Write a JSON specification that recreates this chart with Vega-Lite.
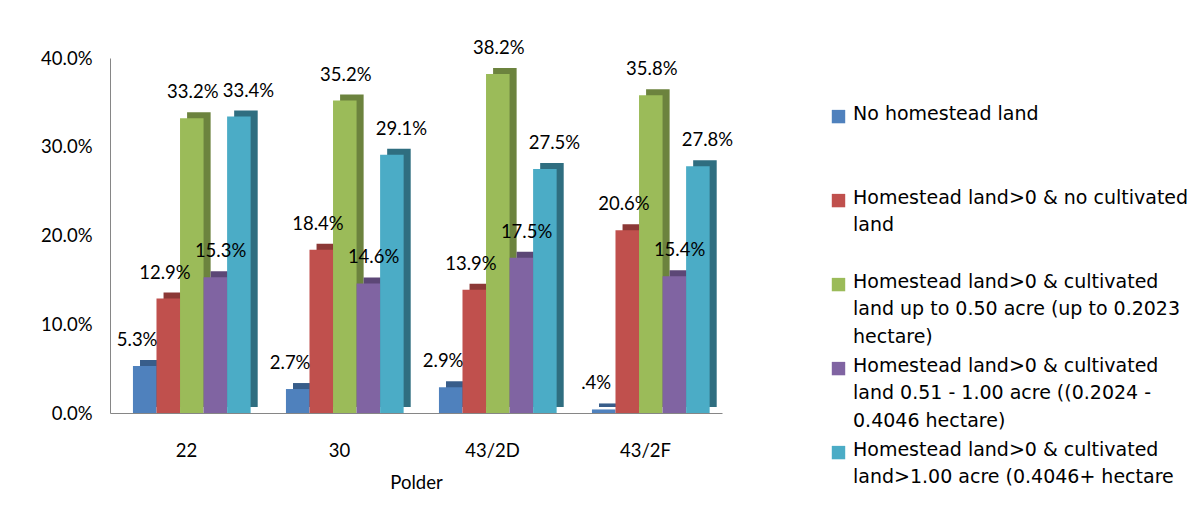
{
  "$schema": "https://vega.github.io/schema/vega-lite/v6.json",
  "width": 612,
  "height": 355,
  "autosize": "none",
  "padding": {"left": 110, "top": 58, "right": 482, "bottom": 99},
  "background": "white",
  "config": {
    "view": {"stroke": null},
    "font": "Lato",
    "style": {"guide-label": {"lineHeight": 27.5}}
  },
  "data": {
    "values": [
      {"polder": "22", "series": "No homestead land", "value": 0.053, "label": "5.3%"},
      {"polder": "22", "series": "Homestead land>0 & no cultivated land", "value": 0.129, "label": "12.9%"},
      {"polder": "22", "series": "Homestead land>0 & cultivated land up to 0.50 acre (up to 0.2023 hectare)", "value": 0.332, "label": "33.2%"},
      {"polder": "22", "series": "Homestead land>0 & cultivated land 0.51 - 1.00 acre ((0.2024 - 0.4046 hectare)", "value": 0.153, "label": "15.3%"},
      {"polder": "22", "series": "Homestead land>0 & cultivated land>1.00 acre (0.4046+ hectare", "value": 0.334, "label": "33.4%"},
      {"polder": "30", "series": "No homestead land", "value": 0.027, "label": "2.7%"},
      {"polder": "30", "series": "Homestead land>0 & no cultivated land", "value": 0.184, "label": "18.4%"},
      {"polder": "30", "series": "Homestead land>0 & cultivated land up to 0.50 acre (up to 0.2023 hectare)", "value": 0.352, "label": "35.2%"},
      {"polder": "30", "series": "Homestead land>0 & cultivated land 0.51 - 1.00 acre ((0.2024 - 0.4046 hectare)", "value": 0.146, "label": "14.6%"},
      {"polder": "30", "series": "Homestead land>0 & cultivated land>1.00 acre (0.4046+ hectare", "value": 0.291, "label": "29.1%"},
      {"polder": "43/2D", "series": "No homestead land", "value": 0.029, "label": "2.9%"},
      {"polder": "43/2D", "series": "Homestead land>0 & no cultivated land", "value": 0.139, "label": "13.9%"},
      {"polder": "43/2D", "series": "Homestead land>0 & cultivated land up to 0.50 acre (up to 0.2023 hectare)", "value": 0.382, "label": "38.2%"},
      {"polder": "43/2D", "series": "Homestead land>0 & cultivated land 0.51 - 1.00 acre ((0.2024 - 0.4046 hectare)", "value": 0.175, "label": "17.5%"},
      {"polder": "43/2D", "series": "Homestead land>0 & cultivated land>1.00 acre (0.4046+ hectare", "value": 0.275, "label": "27.5%"},
      {"polder": "43/2F", "series": "No homestead land", "value": 0.004, "label": ".4%"},
      {"polder": "43/2F", "series": "Homestead land>0 & no cultivated land", "value": 0.206, "label": "20.6%"},
      {"polder": "43/2F", "series": "Homestead land>0 & cultivated land up to 0.50 acre (up to 0.2023 hectare)", "value": 0.358, "label": "35.8%"},
      {"polder": "43/2F", "series": "Homestead land>0 & cultivated land 0.51 - 1.00 acre ((0.2024 - 0.4046 hectare)", "value": 0.154, "label": "15.4%"},
      {"polder": "43/2F", "series": "Homestead land>0 & cultivated land>1.00 acre (0.4046+ hectare", "value": 0.278, "label": "27.8%"}
    ]
  },
  "encoding": {
    "x": {
      "field": "polder",
      "type": "nominal",
      "sort": ["22", "30", "43/2D", "43/2F"],
      "scale": {"paddingInner": 0, "paddingOuter": 0},
      "title": "Polder",
      "axis": {
        "labelAngle": 0,
        "labelFontSize": 18.5,
        "labelColor": "#000000",
        "labelPadding": 28,
        "ticks": false,
        "tickSize": 0,
        "domainColor": "#868686",
        "titleFontSize": 18.5,
        "titleFontWeight": "normal",
        "titleColor": "#000000",
        "titlePadding": 14
      }
    },
    "y": {
      "field": "value",
      "type": "quantitative",
      "scale": {"domain": [0, 0.4]},
      "axis": {
        "title": null,
        "format": ".1%",
        "values": [0, 0.1, 0.2, 0.3, 0.4],
        "grid": false,
        "ticks": false,
        "tickSize": 0,
        "labelPadding": 18,
        "labelFontSize": 18.5,
        "labelColor": "#000000",
        "domainColor": "#868686"
      }
    }
  },
  "layer": [
    {
      "mark": {"type": "bar", "yOffset": -6},
      "encoding": {
        "xOffset": {
          "field": "series",
          "type": "nominal",
          "sort": [
            "No homestead land",
            "Homestead land>0 & no cultivated land",
            "Homestead land>0 & cultivated land up to 0.50 acre (up to 0.2023 hectare)",
            "Homestead land>0 & cultivated land 0.51 - 1.00 acre ((0.2024 - 0.4046 hectare)",
            "Homestead land>0 & cultivated land>1.00 acre (0.4046+ hectare"
          ],
          "scale": {"paddingInner": 0, "paddingOuter": 0.75, "align": 0.85}
        },
        "color": {
          "field": "series",
          "type": "nominal",
          "scale": {
            "domain": [
              "No homestead land",
              "Homestead land>0 & no cultivated land",
              "Homestead land>0 & cultivated land up to 0.50 acre (up to 0.2023 hectare)",
              "Homestead land>0 & cultivated land 0.51 - 1.00 acre ((0.2024 - 0.4046 hectare)",
              "Homestead land>0 & cultivated land>1.00 acre (0.4046+ hectare"
            ],
            "range": ["#385D8A", "#8C3836", "#6C833E", "#5C4776", "#2F6E80"]
          },
          "legend": null
        }
      }
    },
    {
      "mark": {"type": "bar"},
      "encoding": {
        "xOffset": {
          "field": "series",
          "type": "nominal",
          "sort": [
            "No homestead land",
            "Homestead land>0 & no cultivated land",
            "Homestead land>0 & cultivated land up to 0.50 acre (up to 0.2023 hectare)",
            "Homestead land>0 & cultivated land 0.51 - 1.00 acre ((0.2024 - 0.4046 hectare)",
            "Homestead land>0 & cultivated land>1.00 acre (0.4046+ hectare"
          ],
          "scale": {"paddingInner": 0, "paddingOuter": 0.75, "align": 0.65}
        },
        "color": {
          "field": "series",
          "type": "nominal",
          "scale": {
            "domain": [
              "No homestead land",
              "Homestead land>0 & no cultivated land",
              "Homestead land>0 & cultivated land up to 0.50 acre (up to 0.2023 hectare)",
              "Homestead land>0 & cultivated land 0.51 - 1.00 acre ((0.2024 - 0.4046 hectare)",
              "Homestead land>0 & cultivated land>1.00 acre (0.4046+ hectare"
            ],
            "range": ["#4F81BD", "#C0504D", "#9BBB59", "#8064A2", "#4BACC6"]
          },
          "legend": {
            "orient": "none",
            "legendX": 719,
            "legendY": 37,
            "title": null,
            "symbolType": "M-1,0.8H1V2.8H-1Z",
            "symbolSize": 180,
            "symbolStrokeWidth": 0,
            "labelFont": "DejaVu Sans",
            "labelFontSize": 19,
            "labelOffset": 5,
            "labelColor": "#000000",
            "labelLimit": 500,
            "labelBaseline": "top",
            "gridAlign": "all",
            "rowPadding": 0,
            "labelExpr": "datum.label == 'Homestead land>0 & no cultivated land' ? ['Homestead land>0 & no cultivated', 'land'] : datum.label == 'Homestead land>0 & cultivated land up to 0.50 acre (up to 0.2023 hectare)' ? ['Homestead land>0 & cultivated', 'land up to 0.50 acre (up to 0.2023', 'hectare)'] : datum.label == 'Homestead land>0 & cultivated land 0.51 - 1.00 acre ((0.2024 - 0.4046 hectare)' ? ['Homestead land>0 & cultivated', 'land 0.51 - 1.00 acre ((0.2024 -', '0.4046 hectare)'] : datum.label == 'Homestead land>0 & cultivated land>1.00 acre (0.4046+ hectare' ? ['Homestead land>0 & cultivated', 'land>1.00 acre (0.4046+ hectare'] : datum.label"
          }
        }
      }
    },
    {
      "mark": {"type": "text", "baseline": "bottom", "dy": -16, "fontSize": 18.5, "color": "#000000"},
      "encoding": {
        "xOffset": {
          "field": "series",
          "type": "nominal",
          "sort": [
            "No homestead land",
            "Homestead land>0 & no cultivated land",
            "Homestead land>0 & cultivated land up to 0.50 acre (up to 0.2023 hectare)",
            "Homestead land>0 & cultivated land 0.51 - 1.00 acre ((0.2024 - 0.4046 hectare)",
            "Homestead land>0 & cultivated land>1.00 acre (0.4046+ hectare"
          ],
          "scale": {"paddingInner": 0, "paddingOuter": 0.75, "align": 0.65}
        },
        "text": {"field": "label"}
      }
    }
  ],
  "resolve": {"scale": {"color": "independent", "xOffset": "independent"}}
}
